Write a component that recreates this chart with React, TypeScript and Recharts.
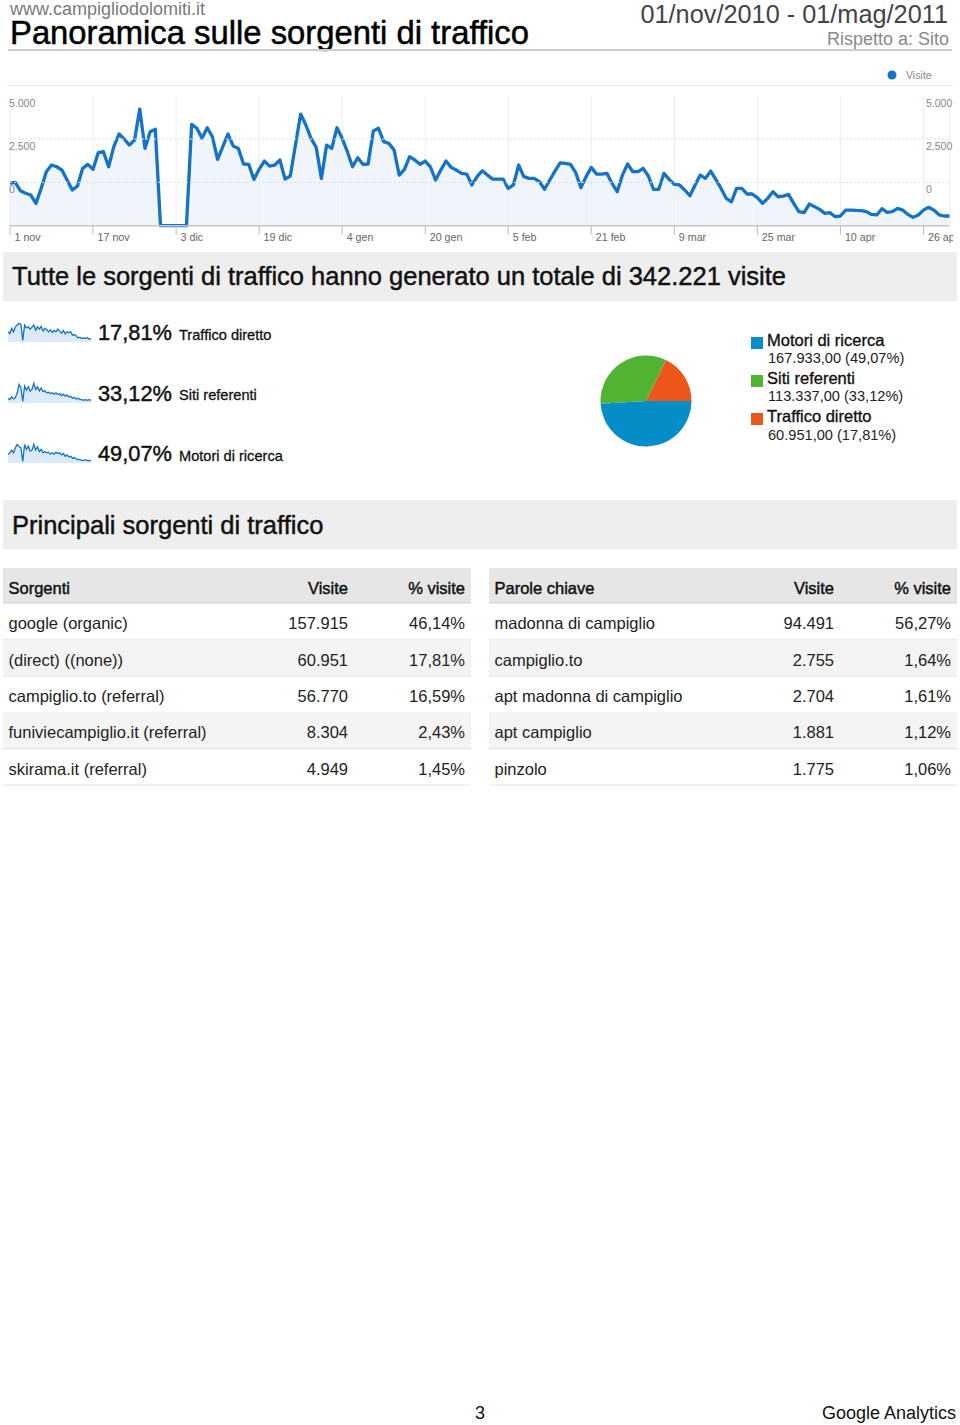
import React from "react";
import {
  AreaChart,
  Area,
  XAxis,
  YAxis,
  CartesianGrid,
  ReferenceLine,
  PieChart,
  Pie,
  Cell,
} from "recharts";

const FONT = '"Liberation Sans", Arial, Helvetica, sans-serif';
const BLUE = "#1473c6";

// daily visits, 1 nov 2010 .. 1 mag 2011 (read against the printed axis)
const visits = [
  -50, 0, -480, -630, -730, -1210, -350, 615, 1000, 900,
  710, 135, -440, -210, 810, 1040, 750, 1710, 1770, 900,
  2060, 2790, 2500, 2150, 2440, 4230, 1960, 2920, 3060, -2500,
  -2500, -2500, -2500, -2500, -2500, 3350, 3120, 2540, 3150, 2630,
  1330, 2060, 2790, 2100, 1960, 1060, 1040, 170, 750, 1230,
  940, 1000, 1290, 190, 365, 2150, 3940, 3310, 2540, 2020,
  230, 2150, 1960, 3150, 2540, 1770, 900, 1420, 1040, 1060,
  2960, 3120, 2350, 2250, 1870, 420, 750, 1480, 1290, 1040,
  1230, 900, 135, 710, 1230, 865, 710, 520, 480, -150,
  330, 670, 420, 190, 190, 190, -350, -150, 1000, 330,
  230, 230, 40, -400, 135, 650, 1130, 1100, 1040, 560,
  -310, 330, 865, 480, 480, 520, -60, -540, 420, 1060,
  615, 615, 810, 365, -400, -400, 520, 170, -115, -150,
  -440, -770, -150, 420, 230, 650, 170, -350, -920, -1120,
  -350, -350, -670, -670, -880, -1210, -920, -540, -830, -790,
  -690, -1210, -1690, -1750, -1250, -1400, -1560, -1790, -1750, -1980,
  -1940, -1600, -1600, -1620, -1630, -1690, -1850, -1880, -1520, -1730,
  -1690, -1500, -1600, -1850, -2020, -1880, -1600, -1440, -1600, -1870,
  -1940, -1940,
];

const tickDays = [0, 16, 32, 48, 64, 80, 96, 112, 128, 144, 160, 176];
const tickLabels = ["1 nov", "17 nov", "3 dic", "19 dic", "4 gen", "20 gen", "5 feb", "21 feb", "9 mar", "25 mar", "10 apr", "26 apr"];
const yTicks = [0, 2500, 5000];

// sparklines (relative height, one point every 4 days)
const sparkDirect = [
  30, 25, 40, 30, 45, 50, 55, 52, 5, 50, 42, 45, 38, 44, 50, 35, 45, 38, 46, 32, 40, 36, 30,
  36, 28, 34, 30, 38, 32, 26, 34, 24, 30, 28, 30, 20, 22, 18, 12, 14, 10, 12, 10, 13, 8, 10,
];
const sparkReferral = [
  13, 10, 18, 12, 16, 30, 55, 45, 5, 50, 38, 48, 35, 40, 58, 40, 48, 36, 44, 34, 36, 30, 32,
  28, 30, 26, 30, 25, 28, 22, 26, 20, 24, 18, 20, 14, 16, 12, 14, 10, 10, 8, 10, 8, 10, 8,
];
const sparkSearch = [
  25, 30, 38, 30, 45, 55, 48, 45, 5, 55, 40, 50, 35, 38, 55, 38, 48, 34, 40, 30, 34, 30, 32,
  26, 30, 26, 32, 28, 30, 24, 28, 20, 24, 18, 20, 14, 16, 12, 10, 10, 8, 8, 10, 7, 8, 7,
];

const shareLabels = ["17,81%", "33,12%", "49,07%"];
const shareNames = ["Traffico diretto", "Siti referenti", "Motori di ricerca"];

// pie, drawn in this order counter-clockwise from 3 o'clock
const pieNames = ["Traffico diretto", "Siti referenti", "Motori di ricerca"];
const pieValues = [60951, 113337, 167933];
const pieColors = ["#ed561b", "#50b432", "#058dc7"];
const legendOrder = [2, 1, 0];
const legendValues = ["60.951,00 (17,81%)", "113.337,00 (33,12%)", "167.933,00 (49,07%)"];

const sourceNames = ["google (organic)", "(direct) ((none))", "campiglio.to (referral)", "funiviecampiglio.it (referral)", "skirama.it (referral)"];
const sourceVisits = ["157.915", "60.951", "56.770", "8.304", "4.949"];
const sourcePct = ["46,14%", "17,81%", "16,59%", "2,43%", "1,45%"];

const keywordNames = ["madonna di campiglio", "campiglio.to", "apt madonna di campiglio", "apt campiglio", "pinzolo"];
const keywordVisits = ["94.491", "2.755", "2.704", "1.881", "1.775"];
const keywordPct = ["56,27%", "1,64%", "1,61%", "1,12%", "1,06%"];

const fmt = (v: number) => String(v).replace(/\B(?=(\d{3})+(?!\d))/g, ".");

// slightly heavier text, like the reference print
const heavy = { stroke: "#111", strokeWidth: 0.45 };

function XTick(props: any) {
  const { x, y, payload } = props;
  const label = tickLabels[tickDays.indexOf(payload.value)];
  return (
    <g>
      <line x1={x} y1={y} x2={x} y2={y + 9} stroke="#bdbdbd" strokeWidth={1} />
      <text x={x + 4.5} y={y + 15} fontSize={10.7} fill="#666" fontFamily={FONT}>
        {label}
      </text>
    </g>
  );
}

// same labels on both sides of the plot, hanging just under each gridline
function YTick(props: any) {
  const { y, payload } = props;
  return (
    <g fontSize={10.5} fill="#888" fontFamily={FONT}>
      <text x={9} y={y + 11}>{fmt(payload.value)}</text>
      <text x={926} y={y + 11}>{fmt(payload.value)}</text>
    </g>
  );
}

function Spark({ values, top }: { values: number[]; top: number }) {
  const data = values.map((v, i) => ({ i, v }));
  return (
    <div style={{ position: "absolute", left: 8, top, width: 83, height: 22 }}>
      <AreaChart width={83} height={22} data={data} margin={{ top: 1, right: 0, bottom: 0, left: 0 }}>
        <XAxis dataKey="i" type="number" domain={[0, values.length - 1]} hide />
        <YAxis domain={[0, 62]} hide />
        <Area
          type="linear"
          dataKey="v"
          stroke={BLUE}
          strokeWidth={1.3}
          fill="#d8e7f6"
          fillOpacity={0.9}
          dot={false}
          activeDot={false}
          isAnimationActive={false}
        />
      </AreaChart>
    </div>
  );
}

function Table({ left, head, names, vals, pcts, visRight, pctRight }: any) {
  const rowTop = [603, 639.5, 676, 712, 748.5];
  const rowH = 36.5;
  return (
    <g fontFamily={FONT}>
      <rect x={left} y={568} width={468} height={35} fill="#e6e6e6" />
      <line x1={left} x2={left + 468} y1={603} y2={603} stroke="#cfcfcf" />
      <text x={left + 5.5} y={594} fontSize={16.5} fill="#111" {...heavy}>{head}</text>
      <text x={visRight} y={594} fontSize={16.5} fill="#111" textAnchor="end" {...heavy}>Visite</text>
      <text x={pctRight} y={594} fontSize={16.5} fill="#111" textAnchor="end" {...heavy}>% visite</text>
      {names.map((n: string, i: number) => (
        <g key={n}>
          {i % 2 === 1 && <rect x={left} y={rowTop[i]} width={468} height={rowH} fill="#f4f4f4" />}
          <line x1={left} x2={left + 468} y1={rowTop[i] + rowH} y2={rowTop[i] + rowH} stroke="#e2e2e2" />
          <text x={left + 5.5} y={rowTop[i] + 26} fontSize={16.5} fill="#222">{n}</text>
          <text x={visRight} y={rowTop[i] + 26} fontSize={16.5} fill="#222" textAnchor="end">{vals[i]}</text>
          <text x={pctRight} y={rowTop[i] + 26} fontSize={16.5} fill="#222" textAnchor="end">{pcts[i]}</text>
        </g>
      ))}
    </g>
  );
}

export default function App() {
  const mainData = visits.map((v, i) => ({ day: i, visits: v }));
  const pieData = pieNames.map((n, i) => ({ name: n, value: pieValues[i] }));
  const sparks = [sparkDirect, sparkReferral, sparkSearch];

  return (
    <div style={{ position: "absolute", left: 0, top: 0, width: 960, height: 1425, background: "#fff", fontFamily: FONT }}>
      <svg width={960} height={1425} style={{ position: "absolute", left: 0, top: 0 }} fontFamily={FONT}>
        {/* header */}
        <text x={10} y={14.5} fontSize={18} fill="#7a7a7a">www.campigliodolomiti.it</text>
        <text x={10} y={43.5} fontSize={32.8} fill="#000" stroke="#000" strokeWidth={0.5}>
          Panoramica sulle sorgenti di traffico
        </text>
        <text x={948} y={23} fontSize={25.3} fill="#444" textAnchor="end">01/nov/2010 - 01/mag/2011</text>
        <text x={949} y={44.5} fontSize={18} fill="#888" textAnchor="end">Rispetto a: Sito</text>
        <line x1={8} x2={952} y1={50} y2={50} stroke="#cccccc" strokeWidth={2} />

        {/* main chart legend */}
        <circle cx={892} cy={75} r={4.5} fill={BLUE} />
        <text x={906} y={79} fontSize={10.6} fill="#888">Visite</text>
        <line x1={7} x2={953} y1={85.5} y2={85.5} stroke="#e8e8e8" strokeWidth={1} />

        {/* banner 1 */}
        <rect x={3} y={252} width={954} height={49} fill="#eeeeee" />
        <text x={12} y={285} fontSize={25.5} fill="#111" {...heavy}>
          Tutte le sorgenti di traffico hanno generato un totale di 342.221 visite
        </text>

        {/* share rows */}
        {shareLabels.map((s, i) => (
          <g key={s}>
            <text x={98} y={340 + i * 60.5} fontSize={21.8} fill="#111" {...heavy}>{s}</text>
            <text x={179} y={339.5 + i * 60.5} fontSize={14.6} fill="#111" {...heavy} strokeWidth={0.3}>
              {shareNames[i]}
            </text>
          </g>
        ))}

        {/* pie legend */}
        {legendOrder.map((k, j) => (
          <g key={k}>
            <rect x={751} y={337 + j * 38} width={12} height={12} fill={pieColors[k]} />
            <text x={767} y={346 + j * 38} fontSize={16.5} fill="#111" {...heavy} strokeWidth={0.35}>
              {pieNames[k]}
            </text>
            <text x={768} y={362.5 + j * 38.5} fontSize={14.6} fill="#222">{legendValues[k]}</text>
          </g>
        ))}

        {/* banner 2 */}
        <rect x={3} y={500} width={954} height={49} fill="#eeeeee" />
        <text x={12} y={534} fontSize={25.5} fill="#111" {...heavy}>Principali sorgenti di traffico</text>

        <Table left={3} head="Sorgenti" names={sourceNames} vals={sourceVisits} pcts={sourcePct} visRight={348} pctRight={465} />
        <Table left={489} head="Parole chiave" names={keywordNames} vals={keywordVisits} pcts={keywordPct} visRight={834} pctRight={951} />

        {/* footer */}
        <text x={480} y={1418.5} fontSize={18} fill="#111" textAnchor="middle">3</text>
        <text x={956} y={1419} fontSize={18} fill="#111" textAnchor="end">Google Analytics</text>
      </svg>

      <div style={{ position: "absolute", left: 0, top: 0 }}>
        <AreaChart width={953} height={250} data={mainData} margin={{ top: 95.7, right: 3.6, bottom: 0, left: 9 }}>
          <CartesianGrid horizontal={false} vertical stroke="#ececec" />
          <XAxis
            dataKey="day"
            type="number"
            domain={[0, 181]}
            ticks={tickDays}
            height={24.3}
            tickSize={0}
            tickMargin={0}
            tickLine={false}
            axisLine={{ stroke: "#c8c8c8", strokeWidth: 1.5 }}
            tick={<XTick />}
            interval={0}
          />
          <YAxis
            orientation="left"
            domain={[-2500, 5000]}
            ticks={yTicks}
            width={1}
            axisLine={false}
            tickLine={false}
            tick={<YTick />}
            interval={0}
          />
          <ReferenceLine y={0} stroke="#dddddd" strokeDasharray="2 2" />
          <ReferenceLine y={2500} stroke="#dddddd" strokeDasharray="2 2" />
          <Area
            type="linear"
            dataKey="visits"
            baseValue="dataMin"
            stroke={BLUE}
            strokeWidth={3.3}
            strokeLinejoin="round"
            fill="#e8f1fa"
            fillOpacity={0.7}
            dot={false}
            activeDot={false}
            isAnimationActive={false}
          />
        </AreaChart>
      </div>

      {sparks.map((s, i) => (
        <Spark key={i} values={s} top={320 + i * 60.5} />
      ))}

      <div style={{ position: "absolute", left: 596, top: 351 }}>
        <PieChart width={100} height={100} margin={{ top: 0, right: 0, bottom: 0, left: 0 }}>
          <Pie
            data={pieData}
            dataKey="value"
            cx={50}
            cy={50}
            outerRadius={45.5}
            startAngle={0}
            endAngle={360}
            stroke="none"
            isAnimationActive={false}
          >
            {pieData.map((d, i) => (
              <Cell key={d.name} fill={pieColors[i]} />
            ))}
          </Pie>
        </PieChart>
      </div>
    </div>
  );
}
